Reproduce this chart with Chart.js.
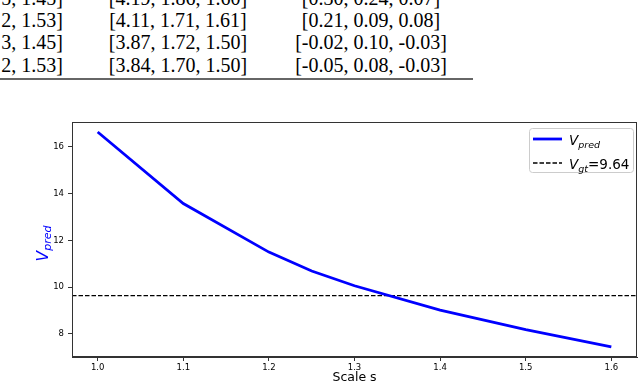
<!DOCTYPE html>
<html>
<head>
<meta charset="utf-8">
<script src="https://cdn.jsdelivr.net/npm/chart.js@4.4.1/dist/chart.umd.min.js"></script>
<style>
  html, body { margin: 0; padding: 0; background: #fff; }
  #wrap { position: relative; width: 640px; height: 385px; overflow: hidden; }
  #myChart { position: absolute; left: 0; top: 0; }
  .cell { position: absolute; font-family: "Liberation Serif", "Times New Roman", serif; font-size: 20px; line-height: 20px; color: #000; white-space: nowrap; }
  .c1 { right: 577px; text-align: right; }
  .c2 { left: 78px; width: 200px; text-align: center; }
  .c3 { left: 271px; width: 200px; text-align: center; }
  #rule { position: absolute; left: 0; top: 78px; width: 473px; height: 2px; background: #666; }
</style>
</head>
<body>
<div id="wrap">
  <div id="table"></div>
  <div id="rule"></div>
  <canvas id="myChart" width="640" height="385"></canvas>
</div>
<script>
// table fragment above the plot
const tableCol1 = ['5, 1.45]', '2, 1.53]', '3, 1.45]', '2, 1.53]'];
const tableCol2 = ['[4.19, 1.86, 1.60]', '[4.11, 1.71, 1.61]', '[3.87, 1.72, 1.50]', '[3.84, 1.70, 1.50]'];
const tableCol3 = ['[0.30, 0.24, 0.07]', '[0.21, 0.09, 0.08]', '[-0.02, 0.10, -0.03]', '[-0.05, 0.08, -0.03]'];
const rowBaselines = [4.5, 26.8, 49.1, 71.4];

// chart data
const scaleS = [1.0, 1.1, 1.2, 1.25, 1.3, 1.4, 1.5, 1.6];
const vPred = [16.64, 13.58, 11.50, 10.69, 10.06, 9.02, 8.18, 7.44];
const vGt = 9.64;
const xTicks = [1.0, 1.1, 1.2, 1.3, 1.4, 1.5, 1.6];
const yTicks = [8, 10, 12, 14, 16];
const xMin = 0.97, xMax = 1.63;
const yMin = 7.01, yMax = 17.07;

const table = document.getElementById('table');
[tableCol1, tableCol2, tableCol3].forEach((col, ci) => {
    col.forEach((txt, ri) => {
        const d = document.createElement('div');
        d.className = 'cell c' + (ci + 1);
        d.style.top = (rowBaselines[ri] - 16.8) + 'px';
        d.textContent = txt;
        table.appendChild(d);
    });
});

const FONT = '"DejaVu Sans", sans-serif';

function drawRich(ctx, parts, x, y) {
    let cx = x;
    parts.forEach(p => {
        ctx.font = (p.italic ? 'italic ' : '') + p.size + 'px ' + FONT;
        ctx.fillText(p.text, cx, y + (p.dy || 0));
        cx += ctx.measureText(p.text).width;
    });
    return cx - x;
}

function richWidth(ctx, parts) {
    let w = 0;
    parts.forEach(p => {
        ctx.font = (p.italic ? 'italic ' : '') + p.size + 'px ' + FONT;
        w += ctx.measureText(p.text).width;
    });
    return w;
}

const decor = {
    id: 'decor',
    afterDraw(chart) {
        const ctx = chart.ctx;
        const a = chart.chartArea;
        ctx.save();
        // frame
        ctx.strokeStyle = '#333';
        ctx.lineWidth = 1;
        ctx.strokeRect(Math.round(a.left) + 0.5, Math.round(a.top) + 0.5, Math.round(a.right - a.left) - 1, Math.round(a.bottom - a.top) - 1);

        // y label
        const yl = [{ text: 'V', size: 15.5, italic: true }, { text: 'pred', size: 11, italic: true, dy: 3 }];
        ctx.translate(48.3, 243.5);
        ctx.rotate(-Math.PI / 2);
        ctx.fillStyle = '#0000ff';
        ctx.textBaseline = 'alphabetic';
        drawRich(ctx, yl, -richWidth(ctx, yl) / 2, 0);
        ctx.restore();

        // legend
        ctx.save();
        ctx.beginPath();
        ctx.roundRect(529.5, 128.5, 104, 44, 3);
        ctx.fillStyle = 'rgba(255,255,255,0.8)';
        ctx.fill();
        ctx.strokeStyle = '#cccccc';
        ctx.lineWidth = 1;
        ctx.stroke();

        ctx.beginPath();
        ctx.moveTo(533, 139);
        ctx.lineTo(562, 139);
        ctx.strokeStyle = '#0000ff';
        ctx.lineWidth = 2.8;
        ctx.stroke();

        ctx.beginPath();
        ctx.setLineDash([4.5, 2]);
        ctx.moveTo(533, 163);
        ctx.lineTo(562, 163);
        ctx.strokeStyle = '#000';
        ctx.lineWidth = 1.3;
        ctx.stroke();
        ctx.setLineDash([]);

        ctx.fillStyle = '#000';
        ctx.textBaseline = 'alphabetic';
        drawRich(ctx, [{ text: 'V', size: 13.5, italic: true }, { text: 'pred', size: 9.5, italic: true, dy: 2.5 }], 569, 145);
        drawRich(ctx, [{ text: 'V', size: 13.5, italic: true }, { text: 'gt', size: 9.5, italic: true, dy: 2.5 }, { text: '=' + vGt.toFixed(2), size: 13.5 }], 569, 169);
        ctx.restore();
    }
};

const ctx = document.getElementById('myChart').getContext('2d');
const myChart = new Chart(ctx, {
    type: 'line',
    data: {
        datasets: [{
            label: 'V_pred',
            data: scaleS.map((s, i) => ({ x: s, y: vPred[i] })),
            borderColor: '#0000ff',
            borderWidth: 2.8,
            pointRadius: 0,
            tension: 0
        }, {
            label: 'V_gt',
            data: [{ x: xMin, y: vGt }, { x: xMax, y: vGt }],
            borderColor: '#000',
            borderWidth: 1.3,
            borderDash: [4.5, 2],
            pointRadius: 0
        }]
    },
    options: {
        responsive: false,
        animation: false,
        devicePixelRatio: 1,
        layout: { padding: { top: 122, right: 3, left: 0, bottom: 0 } },
        plugins: {
            legend: { display: false },
            tooltip: { enabled: false }
        },
        scales: {
            x: {
                type: 'linear',
                min: xMin,
                max: xMax,
                afterBuildTicks: (scale) => { scale.ticks = xTicks.map(v => ({ value: v })); },
                afterFit: (scale) => { scale.height = 28; },
                grid: { drawOnChartArea: false, drawTicks: true, tickLength: 4, tickColor: '#333' },
                border: { display: true, color: '#333', width: 1 },
                ticks: {
                    font: { family: FONT, size: 8.5 },
                    color: '#000',
                    padding: 2,
                    maxRotation: 0,
                    autoSkip: false,
                    callback: v => Number(v).toFixed(1)
                },
                title: {
                    display: true,
                    text: 'Scale s',
                    font: { family: FONT, size: 12.5 },
                    color: '#000',
                    padding: 0
                }
            },
            y: {
                type: 'linear',
                min: yMin,
                max: yMax,
                afterBuildTicks: (scale) => { scale.ticks = yTicks.map(v => ({ value: v })); },
                afterFit: (scale) => { scale.width = 72; },
                grid: { drawOnChartArea: false, drawTicks: true, tickLength: 4, tickColor: '#333' },
                border: { display: true, color: '#333', width: 1 },
                ticks: {
                    font: { family: FONT, size: 8.5 },
                    color: '#000',
                    padding: 4,
                    autoSkip: false,
                    callback: v => String(v)
                }
            }
        }
    },
    plugins: [decor]
});
</script>
</body>
</html>
